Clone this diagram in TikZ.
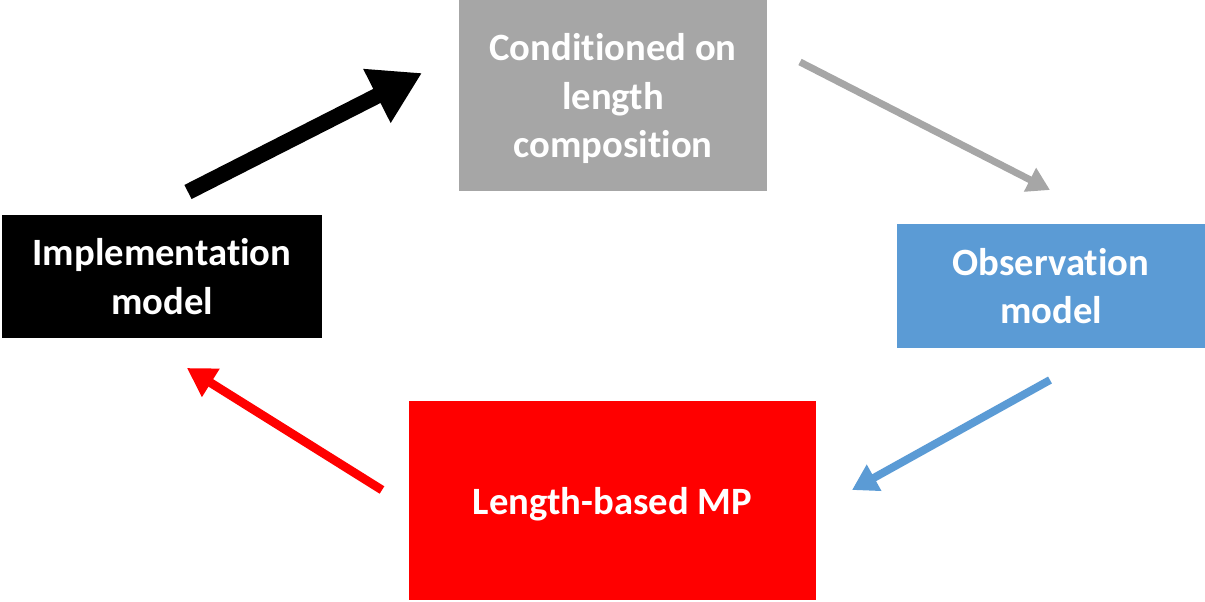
\documentclass[tikz,border=0pt]{standalone}
\usepackage{fontspec}
\setmainfont[Ligatures=NoCommon]{Carlito}
\usetikzlibrary{arrows.meta, positioning}
\definecolor{greybox}{HTML}{A6A6A6}
\definecolor{bluebox}{HTML}{5B9BD5}

\tikzset{
    stagebox/.style={draw=none, align=center, text=white, inner sep=0pt,
        text depth=0pt, font=\fontsize{22}{27.5}\selectfont\bfseries},
    flow/.style={line width=#1, -{Triangle[length=3.2*#1, width=3.6*#1]}},
}

\begin{document}
\begin{tikzpicture}[x=0.02cm, y=-0.02cm]
    \useasboundingbox (0,0) rectangle (1205,602);
    \node[stagebox, fill=greybox, minimum width=308*0.02cm, minimum height=191*0.02cm]
        (cond) at (613,95.5) {Conditioned on\\length\\composition};
    \node[stagebox, fill=bluebox, minimum width=308*0.02cm, minimum height=124*0.02cm]
        (obs) at (1051,286) {Observation\\model};
    \node[stagebox, fill=red, minimum width=407*0.02cm, minimum height=199*0.02cm]
        (mp) at (612.5,500.5) {Length-based MP};
    \node[stagebox, fill=black, minimum width=320*0.02cm, minimum height=123*0.02cm]
        (impl) at (162,276.5) {Implementation\\model};

    % arrow ends
    \coordinate (impl-out) at (188,192);
    \coordinate (cond-in) at (422,73);
    \coordinate (cond-out) at (800,62);
    \coordinate (obs-in) at (1050,190);
    \coordinate (obs-out) at (1050,380);
    \coordinate (mp-in) at (852,490);
    \coordinate (mp-out) at (382,490);
    \coordinate (impl-in) at (187,368);

    \draw[flow=9pt, black] (impl-out) -- (cond-in);
    \draw[flow=4pt, greybox] (cond-out) -- (obs-in);
    \draw[flow=4.5pt, bluebox] (obs-out) -- (mp-in);
    \draw[flow=5pt, red] (mp-out) -- (impl-in);
\end{tikzpicture}
\end{document}
